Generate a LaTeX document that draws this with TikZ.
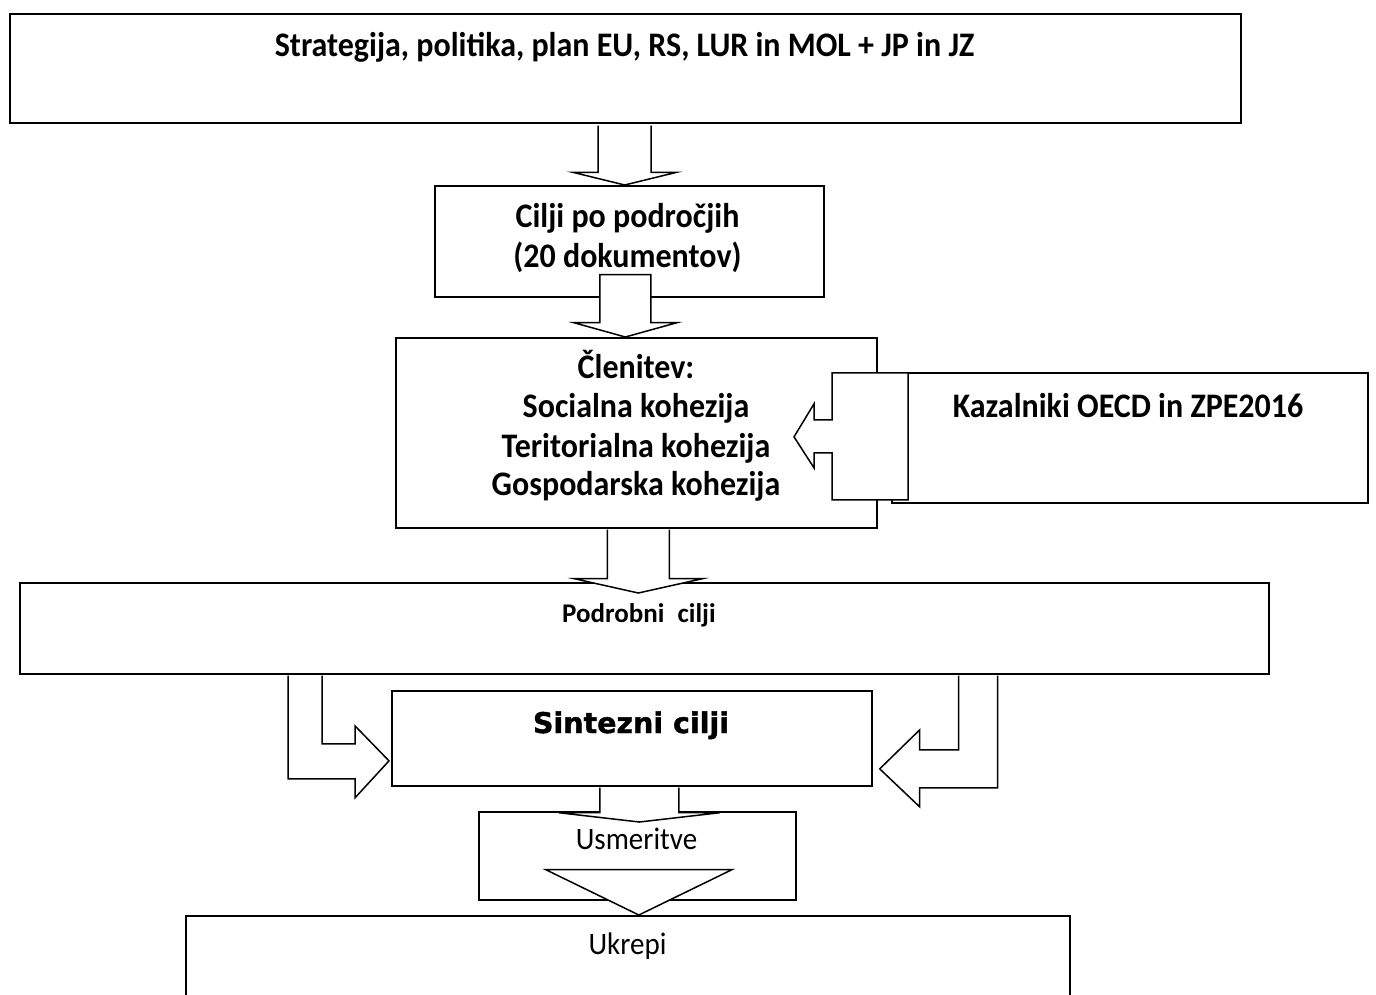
\documentclass[tikz,border=0pt]{standalone}
\usepackage{fontspec}
\setmainfont{Carlito}[FakeStretch=0.93]
\newfontfamily\plainfont{Carlito}
\newfontfamily\heavyfont{DejaVu Sans}[BoldFeatures={FakeBold=1.3}]
\usetikzlibrary{calc}
\tikzset{
  box/.style={draw, line width=1.7pt, fill=white, inner sep=0pt, rectangle, anchor=north west},
  blk/.style={draw, line width=1.5pt, fill=white, line join=miter, miter limit=10},
  tbold/.style={inner sep=0pt, anchor=base, font=\fontsize{34.4}{40}\selectfont\bfseries},
  tsmall/.style={inner sep=0pt, anchor=base west, font=\plainfont\fontsize{27}{33}\selectfont\bfseries},
  treg/.style={inner sep=0pt, anchor=base, font=\fontsize{31.2}{37}\selectfont},
  theavy/.style={inner sep=0pt, anchor=base, font=\fontsize{28.5}{34}\selectfont\heavyfont\bfseries},
}
\begin{document}
\begin{tikzpicture}[x=1pt,y=-1pt]
\clip (0,0) rectangle (1376,994);
\fill[white] (0,0) rectangle (1376,994);
% boxes
\node[box, line width=2.4pt, minimum width=1231pt, minimum height=109pt] (b1) at (9,13) {};
\node[box, minimum width=389pt, minimum height=111pt] (b2) at (434,185) {};
\node[box, minimum width=481pt, minimum height=190pt] (b3) at (395,337) {};
\node[box, minimum width=476pt, minimum height=130pt] (b4) at (891,372) {};
\node[box, minimum width=1249pt, minimum height=91pt] (b5) at (19,582) {};
\node[box, minimum width=480pt, minimum height=95pt] (b6) at (391,690) {};
\node[box, minimum width=317pt, minimum height=88pt] (b7) at (478,811) {};
\node[box, minimum width=884pt, minimum height=140pt] (b8) at (185,915) {};
% texts
\node[tbold] (t1) at (624.5,56) {Strategija, politika, plan EU, RS, LUR in MOL + JP in JZ};
\node[tbold] (t2a) at (627.5,227) {Cilji po področjih};
\node[tbold] (t2b) at (627.5,267) {(20 dokumentov)};
\node[tbold] (t3a) at (636,378) {Členitev:};
\node[tbold] (t3b) at (636,417) {Socialna kohezija};
\node[tbold] (t3c) at (636,457) {Teritorialna kohezija};
\node[tbold] (t3d) at (636,495) {Gospodarska kohezija};
\node[tbold] (t4) at (1128,417) {Kazalniki OECD in ZPE2016};
\node[tsmall] (t5) at (562,622) {Podrobni\hspace{13pt}cilji};
\node[theavy] (t6) at (631,733) {Sintezni cilji};
\node[treg] (t7) at (636.5,849) {Usmeritve};
\node[treg] (t8) at (627.5,954) {Ukrepi};
% arrow b1 -> b2
\coordinate (a1) at ($(b1.south)+(-1,0)$);
\filldraw[blk] ($(a1)+(-26.5,1.2)$) -- ($(a1)+(-26.5,48)$) -- ($(a1)+(-51.5,48)$) -- (a1 |- b2.north) -- ($(a1)+(51.5,48)$) -- ($(a1)+(26.5,48)$) -- ($(a1)+(26.5,1.2)$);
% arrow b2 -> b3
\coordinate (a2) at ($(b2.south)+(-4,0)$);
\filldraw[blk] ($(a2)+(-25.5,-23)$) -- ($(a2)+(-25.5,25)$) -- ($(a2)+(-51.5,25)$) -- (a2 |- b3.north) -- ($(a2)+(51.5,25)$) -- ($(a2)+(25.5,25)$) -- ($(a2)+(25.5,-23)$) -- cycle;
% arrow b3 -> b5
\coordinate (a3) at ($(b3.south)+(2,0)$);
\filldraw[blk] ($(a3)+(-31,0.8)$) -- ($(a3)+(-31,50)$) -- ($(a3)+(-64,50)$) -- ($(a3 |- b5.north)+(0,11)$) -- ($(a3)+(64,50)$) -- ($(a3)+(31,50)$) -- ($(a3)+(31,0.8)$);
% callout b4 -> b3
\coordinate (c4) at (b4.west);
\filldraw[blk] ($(c4)+(17,-65)$) -- ($(c4)+(-59,-65)$) -- ($(c4)+(-59,-18)$) -- ($(c4)+(-77,-18)$) -- ($(c4)+(-77,-34)$) -- ($(c4)+(-97,-1)$) -- ($(c4)+(-77,30)$) -- ($(c4)+(-77,15)$) -- ($(c4)+(-59,15)$) -- ($(c4)+(-59,62)$) -- ($(c4)+(17,62)$) -- cycle;
% bent arrow b5 -> b6 (left)
\coordinate (L) at (b6.west);
\filldraw[blk] ($(L |- b5.south)+(-103,0.8)$) -- ($(L)+(-103,40.5)$) -- ($(L)+(-36,40.5)$) -- ($(L)+(-36,59.5)$) -- ($(L)+(-2,22.5)$) -- ($(L)+(-36,-12.5)$) -- ($(L)+(-36,5.5)$) -- ($(L)+(-69,5.5)$) -- ($(L |- b5.south)+(-69,0.8)$);
% bent arrow b5 -> b6 (right)
\coordinate (R) at (b6.east);
\filldraw[blk] ($(R |- b5.south)+(125,0.8)$) -- ($(R)+(125,49.5)$) -- ($(R)+(47,49.5)$) -- ($(R)+(47,68.5)$) -- ($(R)+(7,30.5)$) -- ($(R)+(47,-8.5)$) -- ($(R)+(47,11.5)$) -- ($(R)+(86,11.5)$) -- ($(R |- b5.south)+(86,0.8)$);
% arrow b6 -> b7
\coordinate (a5) at ($(b6.south)+(7.5,0)$);
\filldraw[blk] ($(a5)+(-39.5,0.8)$) -- ($(a5)+(-39.5,26)$) -- ($(a5)+(-80.5,26)$) -- ($(a5 |- b7.north)+(0,11)$) -- ($(a5)+(80.5,26)$) -- ($(a5)+(39.5,26)$) -- ($(a5)+(39.5,0.8)$);
% triangle b7 -> b8
\coordinate (a7) at ($(b7.south)+(1.5,0)$);
\filldraw[blk] ($(a7)+(-93,-31)$) -- ($(a7)+(93,-31)$) -- (a7 |- b8.north) -- cycle;
\end{tikzpicture}
\end{document}
